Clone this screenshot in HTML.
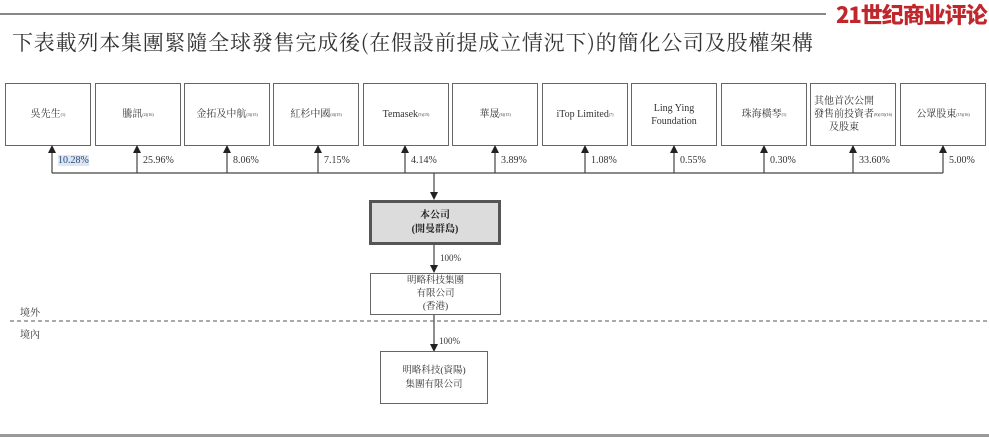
<!DOCTYPE html>
<html><head><meta charset="utf-8"><style>
body{margin:0;width:989px;height:438px;background:#fff;overflow:hidden;position:relative;font-family:"Liberation Serif","Noto Serif CJK SC",serif;color:#333}
.a{position:absolute}
.box{position:absolute;top:83px;width:84px;height:61px;border:1px solid #666;background:#fff;display:flex;align-items:center;justify-content:center;text-align:center;font-size:10px;line-height:13px;color:#333}
sup{font-size:4px}
.p{position:absolute;top:155px;font-size:10px;color:#333}
</style></head><body>
<div class="a" style="left:0;top:13px;width:826px;height:2px;background:#888"></div>
<div class="a" style="left:836px;top:1px;font-family:'Noto Sans CJK SC',sans-serif;font-weight:900;font-size:22px;color:#c0272d;letter-spacing:-1px;line-height:26px">21世纪商业评论</div>
<div class="a" style="left:12px;top:29px;font-size:21px;line-height:26px;color:#333;letter-spacing:0.8px;white-space:nowrap;font-family:'Noto Serif CJK SC',serif">下表載列本集團緊隨全球發售完成後(在假設前提成立情況下)的簡化公司及股權架構</div>

<div class="box" style="left:5px">吳先生<sup>(1)</sup></div>
<div class="box" style="left:95px">騰訊<sup>(2)(16)</sup></div>
<div class="box" style="left:184px">金拓及中航<sup>(3)(15)</sup></div>
<div class="box" style="left:273px">紅杉中國<sup>(4)(15)</sup></div>
<div class="box" style="left:363px">Temasek<sup>(5)(15)</sup></div>
<div class="box" style="left:452px">華晟<sup>(6)(15)</sup></div>
<div class="box" style="left:542px">iTop Limited<sup>(7)</sup></div>
<div class="box" style="left:631px">Ling Ying<br>Foundation</div>
<div class="box" style="left:721px">珠海橫琴<sup>(1)</sup></div>
<div class="box" style="left:810px">其他首次公開<br>發售前投資者<br>及股東<sup>(8)(15)(16)</sup></div>
<div class="box" style="left:900px">公眾股東<sup>(15)(16)</sup></div>

<svg class="a" style="left:0;top:0" width="989" height="438">
<g stroke="#444" stroke-width="1.2">
<line x1="52" y1="173" x2="943" y2="173"/>
<line x1="52" y1="173" x2="52" y2="153"/><line x1="137" y1="173" x2="137" y2="153"/><line x1="227" y1="173" x2="227" y2="153"/><line x1="318" y1="173" x2="318" y2="153"/><line x1="405" y1="173" x2="405" y2="153"/><line x1="495" y1="173" x2="495" y2="153"/><line x1="585" y1="173" x2="585" y2="153"/><line x1="674" y1="173" x2="674" y2="153"/><line x1="764" y1="173" x2="764" y2="153"/><line x1="853" y1="173" x2="853" y2="153"/><line x1="943" y1="173" x2="943" y2="153"/>
<line x1="434" y1="173" x2="434" y2="192"/>
<line x1="434" y1="245" x2="434" y2="265"/>
<line x1="434" y1="314" x2="434" y2="344"/>
</g>
<g fill="#222">
<path d="M48,153 L56,153 L52,145z"/><path d="M133,153 L141,153 L137,145z"/><path d="M223,153 L231,153 L227,145z"/><path d="M314,153 L322,153 L318,145z"/><path d="M401,153 L409,153 L405,145z"/><path d="M491,153 L499,153 L495,145z"/><path d="M581,153 L589,153 L585,145z"/><path d="M670,153 L678,153 L674,145z"/><path d="M760,153 L768,153 L764,145z"/><path d="M849,153 L857,153 L853,145z"/><path d="M939,153 L947,153 L943,145z"/>
<path d="M430,192 L438,192 L434,200z"/>
<path d="M430,265 L438,265 L434,273z"/>
<path d="M430,344 L438,344 L434,352z"/>
</g>
<line x1="10" y1="321" x2="989" y2="321" stroke="#555" stroke-width="1" stroke-dasharray="4,3"/>
<line x1="0" y1="435.5" x2="989" y2="435.5" stroke="#999" stroke-width="3"/>
</svg>

<div class="p" style="left:58px;background:#dde6f3;color:#2a4a7a">10.28%</div>
<div class="p" style="left:143px">25.96%</div>
<div class="p" style="left:233px">8.06%</div>
<div class="p" style="left:324px">7.15%</div>
<div class="p" style="left:411px">4.14%</div>
<div class="p" style="left:501px">3.89%</div>
<div class="p" style="left:591px">1.08%</div>
<div class="p" style="left:680px">0.55%</div>
<div class="p" style="left:770px">0.30%</div>
<div class="p" style="left:859px">33.60%</div>
<div class="p" style="left:949px">5.00%</div>

<div class="a" style="left:369px;top:200px;width:126px;height:39px;border:3px solid #555;background:#dcdcdc;display:flex;align-items:center;justify-content:center;text-align:center;font-size:10px;line-height:14px;font-weight:bold;color:#222">本公司<br>(開曼群島)</div>
<div class="a" style="left:440px;top:253px;font-size:9px">100%</div>
<div class="a" style="left:370px;top:273px;width:129px;height:40px;border:1px solid #666;display:flex;align-items:center;justify-content:center;text-align:center;font-size:9.5px;line-height:13px">明略科技集團<br>有限公司<br>(香港)</div>
<div class="a" style="left:20px;top:304px;font-size:10px">境外</div>
<div class="a" style="left:20px;top:326px;font-size:10px">境內</div>
<div class="a" style="left:439px;top:336px;font-size:9px">100%</div>
<div class="a" style="left:380px;top:351px;width:106px;height:51px;border:1px solid #666;display:flex;align-items:center;justify-content:center;text-align:center;font-size:9.5px;line-height:14px">明略科技(資陽)<br>集團有限公司</div>
</body></html>
